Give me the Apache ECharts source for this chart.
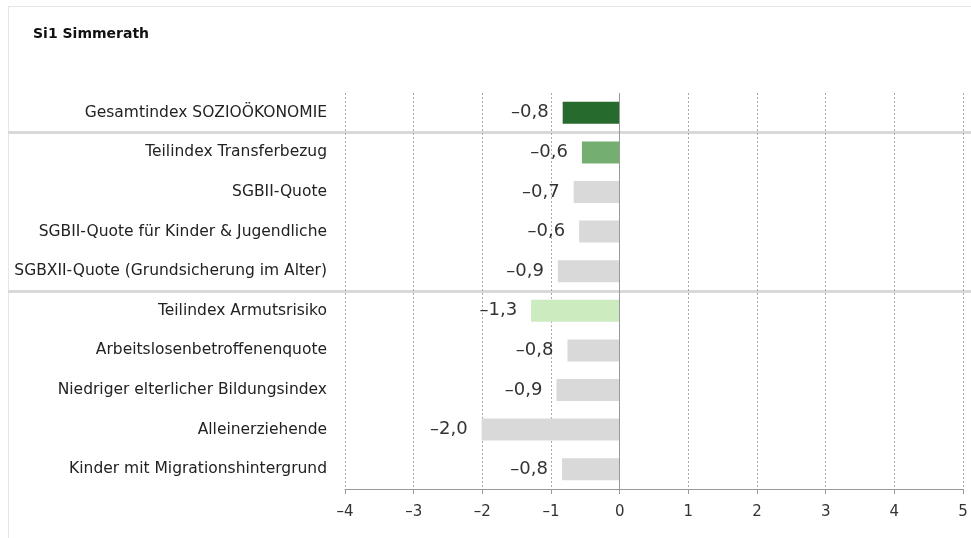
<!DOCTYPE html>
<html>
<head>
<meta charset="utf-8">
<script src="https://cdn.jsdelivr.net/npm/echarts@6/dist/echarts.min.js"></script>
<style>
  html, body { margin: 0; padding: 0; background: #fff; }
  #chart { width: 971px; height: 538px; }
</style>
</head>
<body>
<div id="chart"></div>
<script>
// Kategorien (von oben nach unten)
const categories = [
  'Gesamtindex SOZIOÖKONOMIE',
  'Teilindex Transferbezug',
  'SGBII-Quote',
  'SGBII-Quote für Kinder & Jugendliche',
  'SGBXII-Quote (Grundsicherung im Alter)',
  'Teilindex Armutsrisiko',
  'Arbeitslosenbetroffenenquote',
  'Niedriger elterlicher Bildungsindex',
  'Alleinerziehende',
  'Kinder mit Migrationshintergrund'
]
// Gruppe je Kategorie -> Trennlinien zwischen den Gruppen
const groups = [0, 1, 1, 1, 1, 2, 2, 2, 2, 2]
const values = [-0.83, -0.55, -0.67, -0.59, -0.90, -1.29, -0.76, -0.92, -2.01, -0.84]
const barColors = ['#276a2e', '#75ae71', '#d9d9d9', '#d9d9d9', '#d9d9d9', '#ccecc0', '#d9d9d9', '#d9d9d9', '#d9d9d9', '#d9d9d9']
const xTicks = [-4, -3, -2, -1, 0, 1, 2, 3, 4, 5]

const FONT = '"DejaVu Sans", sans-serif'
const fmt = v => v.toFixed(1).replace('.', ',').replace('-', '–')

// Hilfsachse: ein Punkt je Bandgrenze (Oberkante jeder Kategorie + Unterkante)
const boundaries = categories.concat([''])

const chart = echarts.init(document.getElementById('chart'))

chart.setOption({
  animation: false,
  textStyle: { fontFamily: FONT },
  title: {
    text: 'Si1 Simmerath',
    left: 28,
    top: 22,
    textStyle: { fontSize: 14, fontWeight: 'bold', color: '#111', fontFamily: FONT }
  },
  graphic: [
    { type: 'line', shape: { x1: 8, y1: 6.5, x2: 971, y2: 6.5 }, style: { stroke: '#e6e6e6', lineWidth: 1 } },
    { type: 'line', shape: { x1: 8.5, y1: 6, x2: 8.5, y2: 538 }, style: { stroke: '#e6e6e6', lineWidth: 1 } }
  ],
  grid: [
    { left: 345, right: 8, top: 93, bottom: 49 },
    { left: 8, right: 0, top: 93, bottom: 49 }
  ],
  xAxis: [
    {
      type: 'value',
      min: xTicks[0],
      max: xTicks[xTicks.length - 1],
      interval: 1,
      axisLine: { show: true, lineStyle: { color: '#999', width: 1 } },
      axisTick: { show: true, length: 5, lineStyle: { color: '#999' } },
      axisLabel: { fontSize: 15, color: '#333', margin: 16, formatter: v => String(v).replace('-', '–') },
      splitLine: { show: true, lineStyle: { color: '#aaa', type: [2, 2], width: 1 } }
    },
    { type: 'value', gridIndex: 1, show: false, min: 0, max: 1 }
  ],
  yAxis: [
    {
      type: 'category',
      data: categories,
      inverse: true,
      axisLine: { show: false },
      axisTick: { show: false },
      axisLabel: { fontSize: 15.5, color: '#222', margin: 18 }
    },
    {
      type: 'category',
      gridIndex: 1,
      data: boundaries,
      boundaryGap: false,
      inverse: true,
      axisLine: { show: false },
      axisTick: { show: false },
      axisLabel: { show: false },
      splitLine: {
        show: true,
        interval: (i, name) => {
          const k = categories.indexOf(name)
          return k > 0 && groups[k] !== groups[k - 1]
        },
        lineStyle: { color: '#d9d9d9', width: 3 }
      }
    }
  ],
  series: [
    {
      type: 'bar',
      data: values.map((v, i) => ({ value: v, itemStyle: { color: barColors[i] } })),
      barWidth: 22,
      label: {
        show: true,
        position: 'left',
        distance: 14,
        fontSize: 18,
        color: '#333',
        formatter: p => fmt(p.value)
      },
      markLine: {
        silent: true,
        symbol: 'none',
        label: { show: false },
        lineStyle: { color: '#999', type: 'solid', width: 1 },
        data: [{ xAxis: 0 }]
      }
    },
    { type: 'line', xAxisIndex: 1, yAxisIndex: 1, data: [], silent: true }
  ]
})
</script>
</body>
</html>
